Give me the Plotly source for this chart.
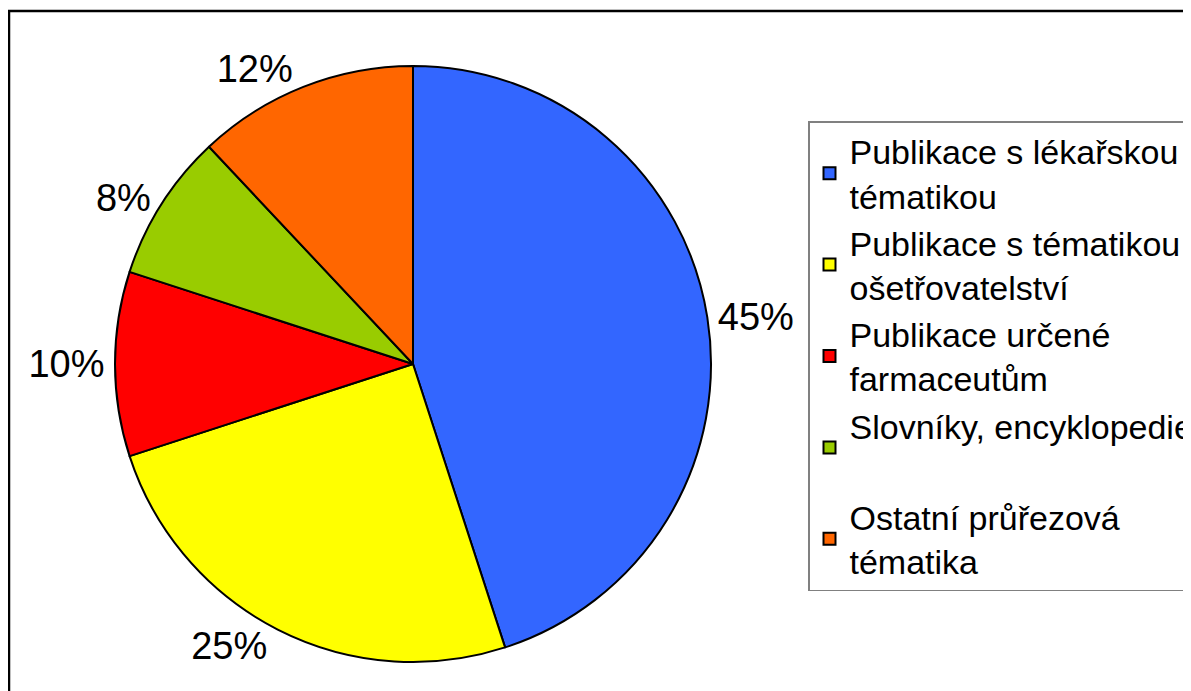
import plotly.graph_objects as go

W, H = 1191, 691
OFF = 8  # page body margin shifts the figure by 8px

labels = [
    "Publikace s lékařskou<br>tématikou",
    "Publikace s tématikou<br>ošetřovatelství",
    "Publikace určené<br>farmaceutům",
    "Slovníky, encyklopedie<br> ",
    "Ostatní průřezová<br>tématika",
]
values = [45, 25, 10, 8, 12]
colors = ["#3366ff", "#ffff00", "#ff0000", "#99cc00", "#ff6600"]

# pie placement in pixels (centre 413,364, radius 298)
cx, cy, r = 413 - OFF, 364 - OFF, 298

fig = go.Figure(go.Pie(
    labels=labels,
    values=values,
    sort=False,
    direction="clockwise",
    rotation=0,
    marker=dict(colors=colors, line=dict(color="black", width=2)),
    textinfo="percent",
    texttemplate="%{percent:.0%}",
    textposition="outside",
    textfont=dict(size=38, color="black", family="Liberation Sans"),
    domain=dict(x=[(cx - r) / W, (cx + r) / W], y=[(H - cy - r) / H, (H - cy + r) / H]),
    hoverinfo="label+percent",
))

fig.update_layout(
    width=W,
    height=H,
    margin=dict(l=0, r=0, t=0, b=0, autoexpand=False),
    paper_bgcolor="white",
    plot_bgcolor="white",
    font=dict(family="Liberation Sans", color="black"),
    showlegend=True,
    legend=dict(
        x=(808 - OFF) / W,
        y=(H - 121 + OFF) / H,
        xanchor="left",
        yanchor="top",
        bgcolor="white",
        bordercolor="#808080",
        borderwidth=1.5,
        font=dict(size=34, family="Liberation Sans", color="black"),
    ),
    shapes=[
        dict(type="rect", xref="paper", yref="paper",
             x0=(9 - OFF) / W, x1=1.05, y0=-0.05, y1=(H - 11 + OFF) / H,
             line=dict(color="black", width=2.5), fillcolor="rgba(0,0,0,0)", layer="below"),
    ],
)

fig.write_html("out.html")
